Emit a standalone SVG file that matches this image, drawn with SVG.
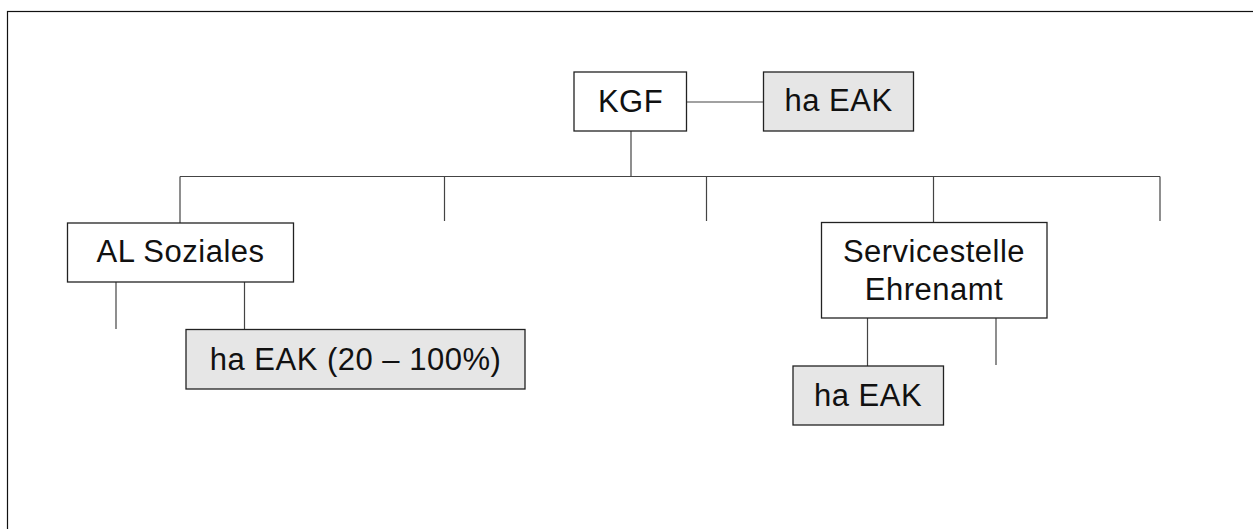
<svg xmlns="http://www.w3.org/2000/svg" width="1253" height="529" viewBox="0 0 1253 529">
<style>
.box{fill:#ffffff;stroke:#222;stroke-width:1.3}
.gray{fill:#e6e6e6;stroke:#222;stroke-width:1.3}
.t{font-family:"Liberation Sans",Arial,Helvetica,sans-serif;font-size:31px;letter-spacing:0.5px;fill:#111;text-anchor:middle}
.c line{stroke:#444;stroke-width:1.2}
</style>
<rect x="7.5" y="11.5" width="1260" height="540" fill="#ffffff" stroke="#111" stroke-width="1.2"/>
<g class="c" id="connectors">
<line x1="686.5" y1="102" x2="763.5" y2="102"/>
<line x1="631" y1="131" x2="631" y2="176.5"/>
<line x1="180" y1="176.5" x2="1160" y2="176.5"/>
<line x1="180" y1="176.5" x2="180" y2="223"/>
<line x1="444.5" y1="176.5" x2="444.5" y2="221"/>
<line x1="706.5" y1="176.5" x2="706.5" y2="221"/>
<line x1="933.5" y1="176.5" x2="933.5" y2="222"/>
<line x1="1160" y1="176.5" x2="1160" y2="221"/>
<line x1="116" y1="282" x2="116" y2="329"/>
<line x1="244.5" y1="282" x2="244.5" y2="329"/>
<line x1="867.5" y1="318" x2="867.5" y2="366"/>
<line x1="996" y1="318" x2="996" y2="365"/>
</g>
<g id="kgf">
<rect class="box" x="574" y="72" width="112.5" height="59"/>
<text class="t" x="630.5" y="111.5">KGF</text>
</g>
<g id="ha-eak-top">
<rect class="gray" x="763.5" y="72" width="150" height="59"/>
<text class="t" x="838.5" y="111">ha EAK</text>
</g>
<g id="al-soziales">
<rect class="box" x="67.5" y="223" width="226" height="59"/>
<text class="t" x="180.5" y="262">AL Soziales</text>
</g>
<g id="ha-eak-20-100">
<rect class="gray" x="186" y="329.5" width="339" height="59.5"/>
<text class="t" x="355.5" y="370">ha EAK (20 – 100%)</text>
</g>
<g id="servicestelle">
<rect class="box" x="821.5" y="222.5" width="225.5" height="95.5"/>
<text class="t" x="934" y="262">Servicestelle</text>
<text class="t" x="934" y="300">Ehrenamt</text>
</g>
<g id="ha-eak-bottom">
<rect class="gray" x="793" y="366" width="150.5" height="59"/>
<text class="t" x="868" y="406">ha EAK</text>
</g>
</svg>
